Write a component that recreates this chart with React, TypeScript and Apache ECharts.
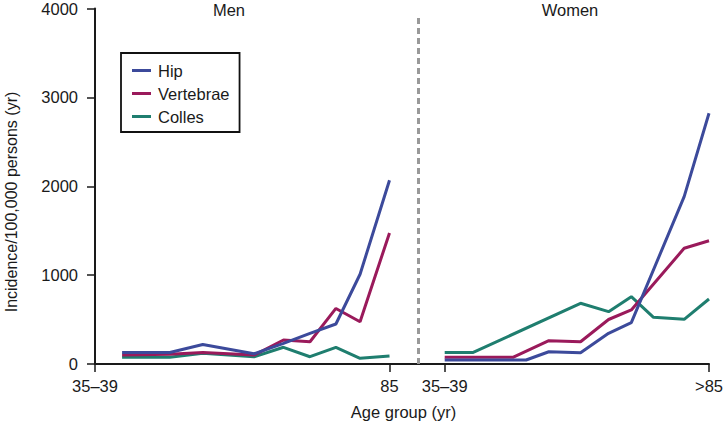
import React, { useEffect, useRef } from "react";
import * as echarts from "echarts";

// Men panel: x = age position (35 = "35–39" tick, 85 = "85" tick)
const menAges = [39.6, 47.7, 53.3, 62, 67, 71.5, 75.9, 80, 85];
const menHip = [130, 130, 220, 115, 232, 345, 450, 1010, 2067];
const menVertebrae = [100, 110, 130, 100, 270, 250, 625, 475, 1475];
const menColles = [75, 75, 120, 82, 188, 82, 188, 64, 90];

// Women panel
const womenHipAges = [35, 50.4, 54.7, 60.7, 66, 70.3, 80.3, 85];
const womenHip = [45, 45, 138, 127, 345, 464, 1880, 2817];
const womenVertebraeAges = [35, 47.9, 54.7, 60.7, 66, 70.3, 80.3, 85];
const womenVertebrae = [75, 75, 262, 250, 500, 607, 1300, 1385];
const womenCollesAges = [35, 40.4, 60.7, 66, 70.3, 74.5, 80.3, 85];
const womenColles = [130, 130, 682, 588, 756, 524, 502, 730];

const seriesNames = ["Hip", "Vertebrae", "Colles"];
const seriesColors = ["#3c4a9b", "#9a1a5b", "#1f7e6f"];

const menTickLabels: Record<number, string> = { 35: "35–39", 85: "85" };
const womenTickLabels: Record<number, string> = { 35: "35–39", 85: ">85" };
const yTicks = [0, 1000, 2000, 3000, 4000];
const separatorAge = 89.8;
const separatorTop = 3930;

const FONT = "Liberation Sans, Arial, Helvetica, sans-serif";
const FS = 16.5;

function pairs(xs: number[], ys: number[]) {
  return xs.map((x, i) => [x, ys[i]]);
}

export default function App() {
  const ref = useRef<HTMLDivElement>(null);
  useEffect(() => {
    document.body.style.margin = "0";
    if (!ref.current) return;
    const chart = echarts.init(ref.current, null, { renderer: "svg" });
    const axisLine = { show: true, lineStyle: { color: "#1a1a1a", width: 2 } };
    const tick = (vals: number[]) => ({
      show: true,
      length: 8,
      lineStyle: { color: "#1a1a1a", width: 1.5 },
      customValues: vals,
    });
    const lineSeries = (name: string, idx: number, data: number[][], grid: number, extra: any = {}) => ({
      name,
      type: "line",
      xAxisIndex: grid,
      yAxisIndex: grid,
      data,
      showSymbol: false,
      symbol: "none",
      lineStyle: { color: seriesColors[idx], width: 3 },
      itemStyle: { color: seriesColors[idx] },
      z: 3 + (2 - idx),
      ...extra,
    });
    chart.setOption({
      animation: false,
      textStyle: { fontFamily: FONT },
      grid: [
        { left: 95, top: 8, bottom: 62, width: 349.7, containLabel: false },
        { left: 444.7, top: 8, bottom: 62, right: 14, containLabel: false },
      ],
      xAxis: [
        {
          type: "value",
          gridIndex: 0,
          min: 35,
          max: 94.37,
          splitLine: { show: false },
          axisLine,
          axisTick: tick([35, 85]),
          axisLabel: {
            customValues: [35, 85],
            formatter: (v: number) => menTickLabels[v] ?? "",
            fontSize: FS,
            color: "#1a1a1a",
            margin: 13,
            fontFamily: FONT,
          },
        },
        {
          type: "value",
          gridIndex: 1,
          min: 35,
          max: 85,
          splitLine: { show: false },
          axisLine,
          axisTick: tick([35, 85]),
          axisLabel: {
            customValues: [35, 85],
            formatter: (v: number) => womenTickLabels[v] ?? "",
            fontSize: FS,
            color: "#1a1a1a",
            margin: 13,
            fontFamily: FONT,
          },
        },
      ],
      yAxis: [
        {
          type: "value",
          gridIndex: 0,
          min: 0,
          max: 4000,
          interval: 1000,
          splitLine: { show: false },
          axisLine,
          axisTick: tick(yTicks),
          axisLabel: {
            fontSize: FS,
            color: "#1a1a1a",
            margin: 17,
            fontFamily: FONT,
            customValues: yTicks,
            formatter: (v: number) => String(v),
          },
        },
        {
          type: "value",
          gridIndex: 1,
          min: 0,
          max: 4000,
          show: false,
        },
      ],
      legend: {
        data: seriesNames,
        orient: "vertical",
        left: 121,
        top: 53,
        width: 118,
        padding: [9, 10, 7, 11],
        borderColor: "#111",
        borderWidth: 1.8,
        itemWidth: 19,
        itemHeight: 3,
        itemGap: 6,
        icon: "rect",
        textStyle: { fontSize: FS, color: "#1a1a1a", fontFamily: FONT, padding: [0, 0, 0, 2] },
        selectedMode: false,
      },
      graphic: [
        {
          type: "text",
          x: 229,
          y: 10,
          style: { text: "Men", fill: "#1a1a1a", font: `${FS}px ${FONT}`, align: "center", verticalAlign: "middle" },
        },
        {
          type: "text",
          x: 570,
          y: 10,
          style: { text: "Women", fill: "#1a1a1a", font: `${FS}px ${FONT}`, align: "center", verticalAlign: "middle" },
        },
        {
          type: "text",
          x: 403.5,
          y: 412,
          style: { text: "Age group (yr)", fill: "#1a1a1a", font: `${FS}px ${FONT}`, align: "center", verticalAlign: "middle" },
        },
        {
          type: "text",
          x: 11,
          y: 202,
          rotation: Math.PI / 2,
          style: {
            text: "Incidence/100,000 persons (yr)",
            fill: "#1a1a1a",
            font: `16px ${FONT}`,
            align: "center",
            verticalAlign: "middle",
          },
        },
      ],
      series: [
        lineSeries("Hip", 0, pairs(menAges, menHip), 0, {
          markLine: {
            silent: true,
            symbol: "none",
            label: { show: false },
            lineStyle: { color: "#999", type: [6, 4], width: 3 },
            data: [[{ coord: [separatorAge, 0] }, { coord: [separatorAge, separatorTop] }]],
          },
        }),
        lineSeries("Vertebrae", 1, pairs(menAges, menVertebrae), 0),
        lineSeries("Colles", 2, pairs(menAges, menColles), 0),
        lineSeries("Hip", 0, pairs(womenHipAges, womenHip), 1),
        lineSeries("Vertebrae", 1, pairs(womenVertebraeAges, womenVertebrae), 1),
        lineSeries("Colles", 2, pairs(womenCollesAges, womenColles), 1),
      ],
    });
    return () => chart.dispose();
  }, []);
  return <div ref={ref} style={{ width: 726, height: 426 }} />;
}
